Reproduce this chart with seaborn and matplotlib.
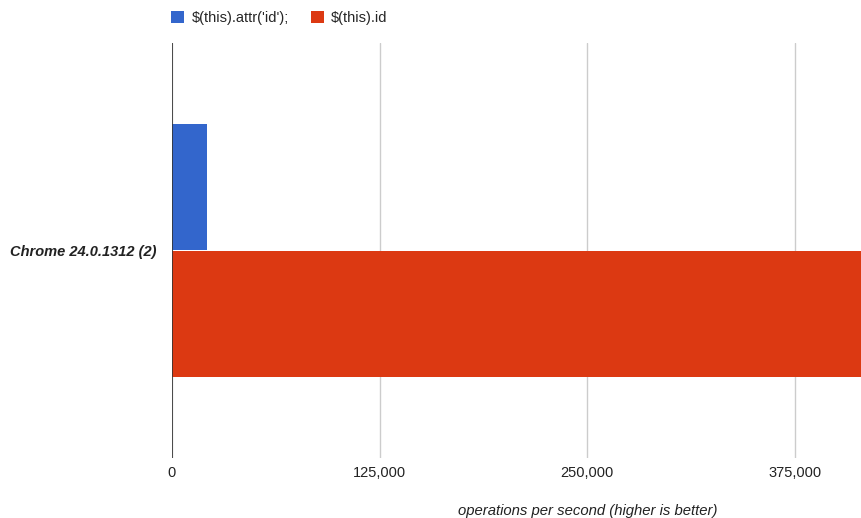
import matplotlib
matplotlib.use("Agg")
import matplotlib.pyplot as plt
import matplotlib.ticker as mticker
import pandas as pd
import seaborn as sns

# data
browsers = ["Chrome 24.0.1312 (2)"]
tests = ["$(this).attr('id');", "$(this).id"]
attr_ops = [21000]
id_ops = [420000]
x_ticks = [0, 125000, 250000, 375000]
x_max = 415300

BLUE = "#3366CC"
RED = "#DC3912"

df = pd.DataFrame({
    "browser": browsers * 2,
    "test": [tests[0]] * len(browsers) + [tests[1]] * len(browsers),
    "ops": attr_ops + id_ops,
})
# escape the dollar signs so matplotlib does not try mathtext
df["test"] = df["test"].str.replace("$", r"\$", regex=False)

sns.set_style("white")
plt.rcParams["font.family"] = ["Liberation Sans", "DejaVu Sans"]

fig = plt.figure(figsize=(8.62, 5.18), dpi=100)
ax = fig.add_axes([172 / 862, 60 / 518, 690 / 862, 415 / 518])

sns.barplot(data=df, y="browser", x="ops", hue="test", orient="h",
            palette=[BLUE, RED], width=0.612, gap=0, saturation=1,
            linewidth=0, ax=ax)

ax.set_xlim(0, x_max)
ax.set_ylim(0.5, -0.5)
ax.set_xticks(x_ticks)
ax.xaxis.set_major_formatter(mticker.FuncFormatter(lambda v, p: f"{int(v):,}"))
ax.grid(True, axis="x", color="#cccccc", linewidth=1)
ax.set_axisbelow(True)
ax.axvline(0, color="#333333", linewidth=1.2, zorder=5)
for s in ax.spines.values():
    s.set_visible(False)
ax.tick_params(axis="both", length=0, labelsize=10.5, labelcolor="#222222")
ax.tick_params(axis="x", pad=6)
ax.tick_params(axis="y", pad=11)
for lbl in ax.get_yticklabels():
    lbl.set_fontweight("bold")
    lbl.set_fontstyle("italic")
ax.set_ylabel("")
ax.set_xlabel("operations per second (higher is better)", fontsize=10.7,
              fontstyle="italic", color="#222222")
ax.xaxis.set_label_coords(0.603, -0.11)

sns.move_legend(ax, "upper left", bbox_to_anchor=(-0.02, 1.108), ncol=2,
                frameon=False, title=None, fontsize=10.5, handlelength=0.9,
                handleheight=0.9, handletextpad=0.5, columnspacing=1.5)

fig.savefig("out.png", dpi=100)
